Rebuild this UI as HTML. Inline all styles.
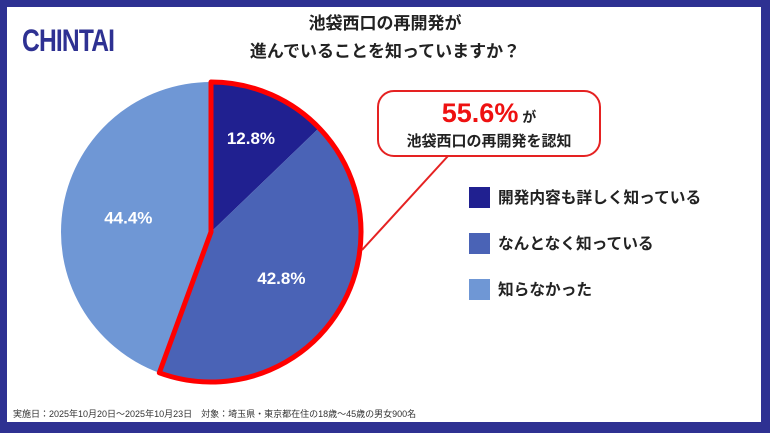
<!DOCTYPE html>
<html><head><meta charset="utf-8"><style>
body{margin:0;width:770px;height:433px;overflow:hidden;background:#fff;font-family:"Liberation Sans","Noto Sans CJK JP",sans-serif}
svg text{font-family:"Liberation Sans","Noto Sans CJK JP",sans-serif}
</style></head><body>
<svg width="770" height="433">
<rect x="0" y="0" width="770" height="433" fill="#2e3192"/>
<rect x="7" y="7" width="754" height="415" fill="#fff"/>
<text x="0" y="0" transform="translate(22,51) scale(0.82,1.05)" font-size="30" font-weight="bold" fill="#2e3192" letter-spacing="-1">CHINTAI</text>
<text x="385" y="29" text-anchor="middle" font-size="17" font-weight="bold" fill="#222">池袋西口の再開発が</text>
<text x="385" y="57" text-anchor="middle" font-size="17" font-weight="bold" fill="#222">進んでいることを知っていますか？</text>
<g id="pie"></g>
<line x1="448" y1="156" x2="362" y2="250" stroke="#e52222" stroke-width="2"/>
<rect x="378" y="91" width="222" height="65" rx="16" fill="#fff" stroke="#e52222" stroke-width="2"/>
<text x="489" y="122" text-anchor="middle"><tspan font-size="27" font-weight="bold" fill="#ee1111">55.6%</tspan><tspan font-size="14" font-weight="bold" fill="#222"> が</tspan></text>
<text x="489" y="146" text-anchor="middle" font-size="15" font-weight="bold" fill="#222">池袋西口の再開発を認知</text>
<g id="legend"></g>
<text x="13" y="417" font-size="9" fill="#333">実施日：2025年10月20日～2025年10月23日　対象：埼玉県・東京都在住の18歳～45歳の男女900名</text>
</svg>
<script>
const categories=["開発内容も詳しく知っている","なんとなく知っている","知らなかった"];
const values=[12.8,42.8,44.4];
const labels=["12.8%","42.8%","44.4%"];
const colors=["#202090","#4a63b6","#6f97d5"];
const ns="http://www.w3.org/2000/svg";
const cx=211,cy=232,r=150;
const total=values.reduce((a,b)=>a+b,0);
const pie=document.getElementById('pie');
function pt(a,rr){return [cx+rr*Math.sin(a),cy-rr*Math.cos(a)];}
let a0=0;
const angles=[];
values.forEach((v,i)=>{
  const a1=a0+v/total*2*Math.PI;
  const [x0,y0]=pt(a0,r),[x1,y1]=pt(a1,r);
  const p=document.createElementNS(ns,'path');
  p.setAttribute('d',`M${cx},${cy}L${x0},${y0}A${r},${r} 0 ${a1-a0>Math.PI?1:0} 1 ${x1},${y1}Z`);
  p.setAttribute('fill',colors[i]);
  
  
  pie.appendChild(p);
  angles.push([a0,a1]);
  a0=a1;
});
angles.forEach(([s,e],i)=>{
  const k=(e-s)<1?0.68:0.56;
  const [x,y]=pt((s+e)/2,r*k);
  const t=document.createElementNS(ns,'text');
  t.setAttribute('x',x);t.setAttribute('y',y+6);
  t.setAttribute('text-anchor','middle');t.setAttribute('font-size','17');
  t.setAttribute('font-weight','bold');t.setAttribute('fill','#fff');
  t.textContent=labels[i];
  
  
  pie.appendChild(t);
});
const aEnd=angles[1][1];
const [ex,ey]=pt(aEnd,r);const [sx,sy]=pt(0,r);
const o=document.createElementNS(ns,'path');
o.setAttribute('d',`M${cx},${cy}L${sx},${sy}A${r},${r} 0 ${aEnd>Math.PI?1:0} 1 ${ex},${ey}Z`);
o.setAttribute('fill','none');o.setAttribute('stroke','#ff0000');o.setAttribute('stroke-width','5');o.setAttribute('stroke-linejoin','round');


pie.appendChild(o);
const lg=document.getElementById('legend');
const ly=[187,233,279];
categories.forEach((c,i)=>{
  const r1=document.createElementNS(ns,'rect');
  r1.setAttribute('x',469);r1.setAttribute('y',ly[i]);r1.setAttribute('width',21);r1.setAttribute('height',21);r1.setAttribute('fill',colors[i]);
  
  
  lg.appendChild(r1);
  const t=document.createElementNS(ns,'text');
  t.setAttribute('x',498);t.setAttribute('y',ly[i]+16);t.setAttribute('font-size','15.7');t.setAttribute('font-weight','bold');t.setAttribute('fill','#222');
  t.textContent=c;
  
  
  lg.appendChild(t);
});
</script>
</body></html>
